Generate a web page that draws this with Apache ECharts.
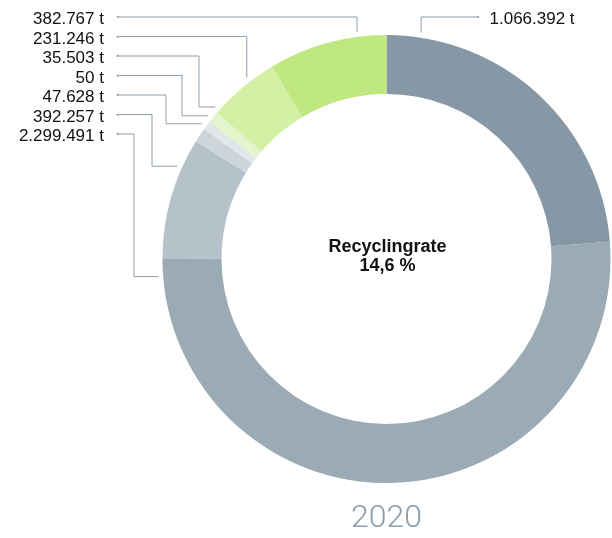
<!DOCTYPE html>
<html>
<head>
<meta charset="utf-8">
<script src="https://cdn.jsdelivr.net/npm/echarts@6/dist/echarts.min.js"></script>
<style>
  html, body { margin: 0; padding: 0; background: #ffffff; }
  #chart { width: 612px; height: 538px; }
</style>
</head>
<body>
<div id="chart"></div>
<script>
// ---- data (clockwise from 12 o'clock) ----
const categories = ['A', 'B', 'C', 'D', 'E', 'F', 'G', 'H'];
const tonnes = [1066392, 2299491, 392257, 47628, 50, 35503, 231246, 382767];
const recyclingRate = '14,6 %';
const centerTitle = 'Recyclingrate';
const yearLabel = '2020';

// ---- styles / layout ----
const colors = ['#8698a5', '#9babb5', '#b5c2ca', '#cdd4da', '#e2e6e9', '#e3f5cc', '#d3f0a5', '#c0e880'];
const lineColor = '#8d9dab';
const CX = 386.5, CY = 259, R0 = 165, R1 = 224, RG = 229;
// label side and row, anchor angle on ring (deg clockwise from top), optional elbow x
const side   = ['right', 'left', 'left', 'left', 'left', 'left', 'left', 'left'];
const row    = [0, 6, 5, 4, 3, 2, 1, 0];
const anchor = [8.7, 265.6, 293.9, 306.2, 308.7, 311.6, 322.4, 352.6];
const elbowX = [null, 134, 152, 166, 182, 199, null, null];
const ROW0 = 17, ROWGAP = 19.5;
const LEFT_DOT = 117.5, RIGHT_DOT = 478;

function fmt(v) {
  return String(v).replace(/\B(?=(\d{3})+(?!\d))/g, '.') + ' t';
}

const chart = echarts.init(document.getElementById('chart'), null, { renderer: 'canvas' });

const option = {
  animation: false,
  backgroundColor: '#ffffff',
  graphic: [
    {
      type: 'text', x: CX + 1, y: 247,
      style: { text: centerTitle, align: 'center', verticalAlign: 'middle',
        fontFamily: 'Liberation Sans', fontSize: 18, fontWeight: 'bold', fill: '#111111' }
    },
    {
      type: 'text', x: CX + 1, y: 266,
      style: { text: recyclingRate, align: 'center', verticalAlign: 'middle',
        fontFamily: 'Liberation Sans', fontSize: 18, fontWeight: 'bold', fill: '#111111' }
    },
    {
      type: 'text', x: CX, y: 519,
      style: { text: yearLabel, align: 'center', verticalAlign: 'middle',
        fontFamily: 'Roboto', fontSize: 32, fontWeight: 300, fill: '#8d9eab' }
    }
  ],
  series: [{
    type: 'pie',
    center: [CX, CY],
    radius: [R0, R1],
    startAngle: 90,
    clockwise: true,
    minAngle: 2.4,
    avoidLabelOverlap: false,
    silent: true,
    itemStyle: { borderWidth: 0 },
    label: {
      show: true,
      position: 'outside',
      formatter: function (p) {
        return side[p.dataIndex] === 'left'
          ? '{v|' + fmt(p.value) + '}{dl|●}'
          : '{dr|●}{v|' + fmt(p.value) + '}';
      },
      rich: {
        v: { fontFamily: 'Liberation Sans', fontSize: 17, color: '#111111' },
        dl: { fontSize: 5, color: lineColor, padding: [0, 0, 5, 12] },
        dr: { fontSize: 5, color: lineColor, padding: [0, 10, 5, 0] }
      }
    },
    labelLine: { show: true, length: 10, length2: 10, lineStyle: { color: lineColor, width: 1 } },
    labelLayout: function (p) {
      const i = p.dataIndex;
      const a = anchor[i] * Math.PI / 180;
      const ex = CX + RG * Math.sin(a);
      const ey = CY - RG * Math.cos(a);
      const y0 = ROW0 + row[i] * ROWGAP;
      let pts;
      if (side[i] === 'left') {
        if (elbowX[i] == null) {
          pts = [[LEFT_DOT, y0], [ex, y0], [ex, ey]];
        } else {
          pts = [[LEFT_DOT, y0], [elbowX[i], y0], [elbowX[i], ey], [ex, ey]];
        }
        return { x: LEFT_DOT + 1.5, y: y0 + 2.5, align: 'right', verticalAlign: 'middle', labelLinePoints: pts };
      } else {
        pts = [[RIGHT_DOT, y0], [ex, y0], [ex, ey]];
        return { x: RIGHT_DOT - 1.5, y: y0 + 2.5, align: 'left', verticalAlign: 'middle', labelLinePoints: pts };
      }
    },
    data: categories.map(function (c, i) {
      return { name: c, value: tonnes[i], itemStyle: { color: colors[i] } };
    })
  }]
};

chart.setOption(option);
</script>
</body>
</html>
